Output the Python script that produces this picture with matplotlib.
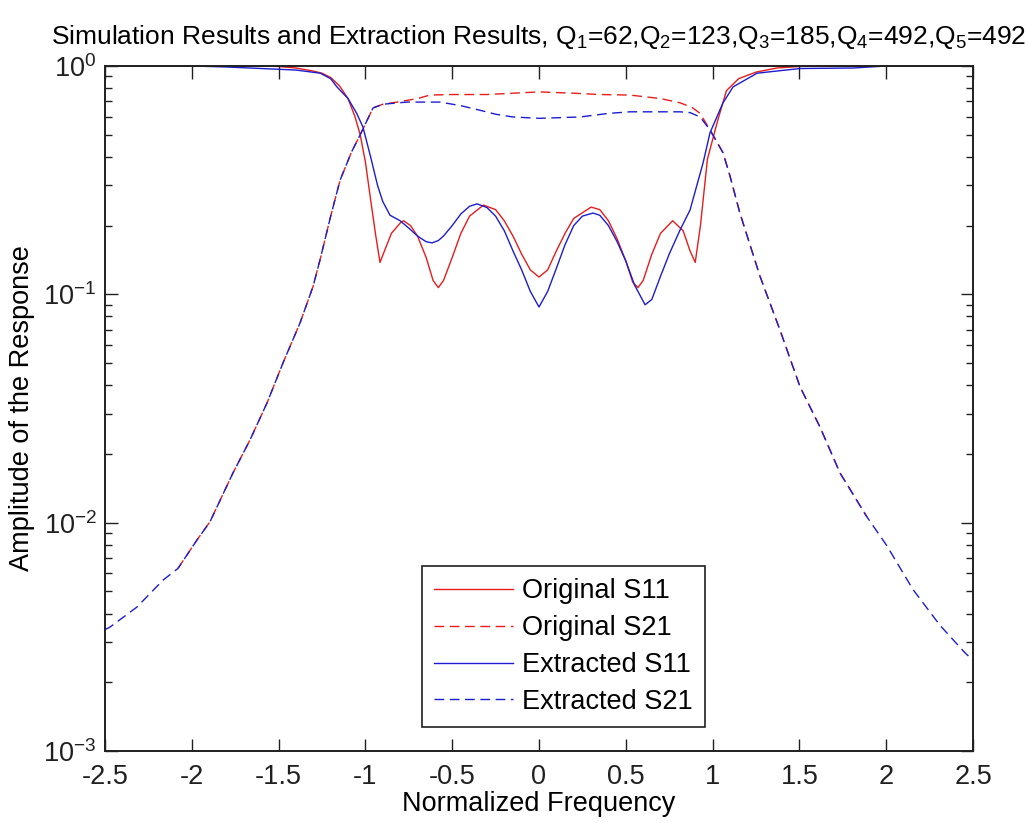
import numpy as np
import matplotlib
matplotlib.use('Agg')
import matplotlib.pyplot as plt

plt.rcParams['font.family'] = ['Liberation Sans', 'DejaVu Sans']
plt.rcParams['mathtext.fontset'] = 'custom'
plt.rcParams['mathtext.rm'] = 'Liberation Sans'
plt.rcParams['mathtext.it'] = 'Liberation Sans'
plt.rcParams['font.size'] = 19.5

#------------------------------------------------------------
# data
#------------------------------------------------------------
# original S11 (red solid)
x_os11 = [-2.0, -1.6, -1.5, -1.4, -1.3, -1.25, -1.2, -1.15, -1.1, -1.06, -1.03, -1.0, -0.97, -0.94,
          -0.916, -0.89, -0.85, -0.8, -0.78, -0.74, -0.7, -0.65, -0.61, -0.58, -0.55, -0.5, -0.45,
          -0.4, -0.32, -0.25, -0.2, -0.15, -0.1, -0.05, 0.0, 0.05, 0.1, 0.15, 0.2, 0.3, 0.35, 0.4,
          0.45, 0.5, 0.54, 0.57, 0.6, 0.65, 0.7, 0.77, 0.83, 0.87, 0.9, 0.93, 0.97, 1.03, 1.08,
          1.15, 1.25, 1.37, 1.54, 1.9]
y_os11 = [1.0, 1.0, 0.995, 0.98, 0.95, 0.93, 0.89, 0.82, 0.72, 0.6, 0.5, 0.38, 0.26, 0.18,
          0.138, 0.155, 0.185, 0.205, 0.21, 0.2, 0.18, 0.145, 0.115, 0.107, 0.115, 0.145, 0.185,
          0.22, 0.246, 0.235, 0.21, 0.18, 0.15, 0.128, 0.119, 0.128, 0.155, 0.185, 0.215, 0.241, 0.235, 0.21,
          0.175, 0.14, 0.113, 0.107, 0.115, 0.15, 0.185, 0.21, 0.19, 0.155, 0.138, 0.2, 0.39, 0.58, 0.78,
          0.88, 0.94, 0.98, 1.0, 1.0]

# original S21 (red dashed)
x_os21 = [-2.08, -1.97, -1.895, -1.763, -1.665, -1.567, -1.475, -1.377, -1.302, -1.262, -1.2,
          -1.146, -1.08, -1.03, -0.98, -0.956, -0.9, -0.818, -0.7, -0.628, -0.5, -0.3, -0.15, 0.0,
          0.2, 0.35, 0.524, 0.7, 0.812, 0.88, 0.928, 0.985, 1.06, 1.1, 1.158, 1.273, 1.388, 1.504,
          1.619, 1.734, 1.889]
y_os21 = [0.0063, 0.0084, 0.0101, 0.0165, 0.023, 0.0334, 0.050, 0.0748, 0.108, 0.141, 0.22,
          0.316, 0.42, 0.5, 0.6, 0.655, 0.68, 0.695, 0.72, 0.746, 0.75, 0.75, 0.76, 0.77,
          0.76, 0.75, 0.746, 0.72, 0.69, 0.66, 0.62, 0.525, 0.417, 0.33, 0.226, 0.12, 0.0698, 0.0393,
          0.0262, 0.0165, 0.0106]

# extracted S11 (blue solid)
x_es11 = [-2.5, -2.0, -1.8, -1.6, -1.4, -1.26, -1.2, -1.164, -1.1, -1.05, -1.014, -0.97, -0.93,
          -0.9, -0.858, -0.8, -0.75, -0.7, -0.65, -0.616, -0.58, -0.55, -0.5, -0.45, -0.4, -0.357,
          -0.3, -0.25, -0.2, -0.15, -0.1, -0.05, 0.0, 0.05, 0.1, 0.15, 0.2, 0.25, 0.311, 0.35, 0.4,
          0.45, 0.5, 0.55, 0.611, 0.65, 0.7, 0.75, 0.812, 0.87, 0.945, 0.985, 1.06, 1.118, 1.256,
          1.504, 1.81, 2.0, 2.5]
y_es11 = [1.0, 1.0, 0.99, 0.975, 0.96, 0.93, 0.88, 0.81, 0.72, 0.62, 0.54, 0.4, 0.3,
          0.255, 0.222, 0.21, 0.195, 0.18, 0.17, 0.168, 0.172, 0.18, 0.2, 0.225, 0.243, 0.249,
          0.24, 0.22, 0.19, 0.155, 0.128, 0.103, 0.088, 0.103, 0.13, 0.165, 0.2, 0.22, 0.227, 0.222, 0.2,
          0.17, 0.14, 0.11, 0.09, 0.095, 0.12, 0.15, 0.191, 0.234, 0.376, 0.51, 0.69, 0.81, 0.93,
          0.975, 0.98, 1.0, 1.0]

# extracted S21 (blue dashed)
x_es21 = [-2.5, -2.471, -2.316, -2.166, -2.08, -1.97, -1.895, -1.763, -1.665, -1.567, -1.475,
          -1.377, -1.302, -1.262, -1.2, -1.146, -1.08, -1.03, -0.98, -0.956, -0.9, -0.76, -0.57,
          -0.45, -0.34, -0.25, -0.15, 0.0, 0.236, 0.4, 0.524, 0.7, 0.812, 0.87, 0.928, 0.985, 1.06,
          1.1, 1.158, 1.273, 1.388, 1.504, 1.619, 1.734, 1.889, 2.005, 2.154, 2.31, 2.454, 2.5]
y_es21 = [0.0034, 0.00349, 0.00427, 0.0056, 0.0063, 0.0084, 0.0101, 0.0165, 0.023, 0.0334, 0.050,
          0.0748, 0.108, 0.141, 0.22, 0.316, 0.42, 0.5, 0.6, 0.655, 0.68, 0.695, 0.695,
          0.67, 0.64, 0.615, 0.598, 0.59, 0.598, 0.62, 0.63, 0.63, 0.63, 0.625, 0.598, 0.525, 0.417,
          0.33, 0.226, 0.12, 0.0698, 0.0393, 0.0262, 0.0165, 0.0106, 0.0079, 0.0051, 0.00355, 0.00269, 0.0025]

xticks = [-2.5, -2, -1.5, -1, -0.5, 0, 0.5, 1, 1.5, 2, 2.5]
xticklabels = ['-2.5', '-2', '-1.5', '-1', '-0.5', '0', '0.5', '1', '1.5', '2', '2.5']
qs = [62, 123, 185, 492, 492]

#------------------------------------------------------------
# plotting
#------------------------------------------------------------
red = '#e81c1c'
blue = '#1c1cd0'
dash = (7, 4)

fig = plt.figure(figsize=(10.26, 8.23), dpi=100)
ax = fig.add_axes([105/1026, 1-751/823, 868/1026, 685/823])

ax.plot(x_os11, y_os11, color=red, lw=1.0, label='Original S11')
ax.plot(x_os21, y_os21, color=red, lw=1.0, dashes=dash, label='Original S21')
ax.plot(x_es11, y_es11, color=blue, lw=1.0, label='Extracted S11')
ax.plot(x_es21, y_es21, color=blue, lw=1.0, dashes=dash, label='Extracted S21')

ax.set_yscale('log')
ax.set_xlim(-2.5, 2.5)
ax.set_ylim(1e-3, 1e0)
ax.set_xticks(xticks)
ax.set_xticklabels(xticklabels)
ax.tick_params(which='both', direction='in', top=True, right=True, width=1.0, colors='#202020')
ax.tick_params(which='major', length=9)
ax.tick_params(axis='x', which='major', pad=9)
ax.tick_params(axis='y', which='major', pad=6)
ax.tick_params(which='minor', length=5)
for s in ax.spines.values():
    s.set_linewidth(1.4)
    s.set_color('#202020')

title = 'Simulation Results and Extraction Results, ' + ','.join(
    'Q$_{%d}$=%d' % (i + 1, q) for i, q in enumerate(qs))
ax.set_title(title, fontsize=19, pad=16)
ax.set_xlabel('Normalized Frequency', labelpad=1)
ax.set_ylabel('Amplitude of the Response', labelpad=6)

leg = ax.legend(loc='lower left', bbox_to_anchor=(0.365, 0.035), fancybox=False,
                edgecolor='#202020', framealpha=1, handlelength=2.9, handletextpad=0.35,
                labelspacing=0.4, borderpad=0.45, borderaxespad=0)
leg.get_frame().set_linewidth(1.2)

fig.savefig('out.png', dpi=100)
